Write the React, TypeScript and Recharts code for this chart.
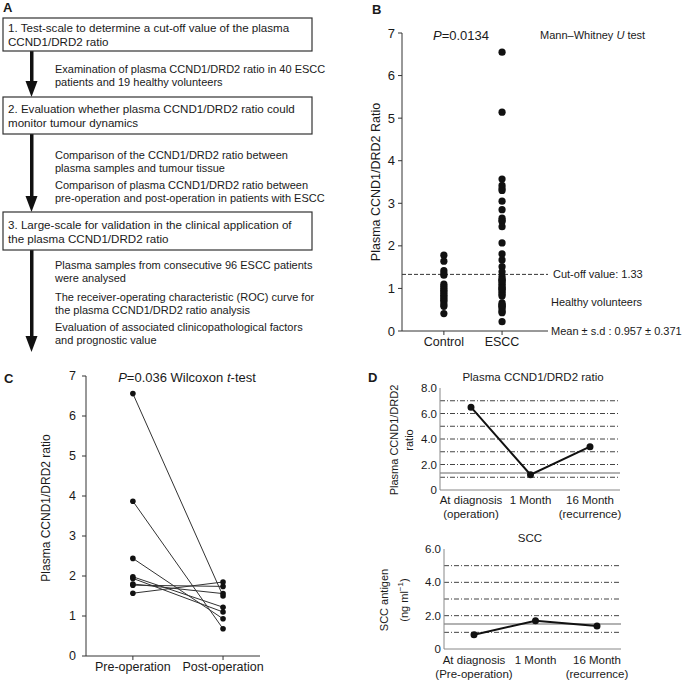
import React from "react";
import { ScatterChart, Scatter, XAxis, YAxis, ReferenceLine, LineChart, Line } from "recharts";

const FONT = '"Liberation Sans", Arial, Helvetica, sans-serif';
const INK = "#1a1a1a";

// panel A: flow chart text
const steps = [
  ["1. Test-scale to determine a cut-off value of the plasma", "CCND1/DRD2 ratio"],
  ["2. Evaluation whether plasma CCND1/DRD2 ratio could", "monitor tumour dynamics"],
  ["3. Large-scale for validation in the clinical application of", "the plasma CCND1/DRD2 ratio"],
];
const notes = [
  [["Examination of plasma CCND1/DRD2 ratio in 40 ESCC", "patients and 19 healthy volunteers"]],
  [
    ["Comparison of the CCND1/DRD2 ratio between", "plasma samples and tumour tissue"],
    ["Comparison of plasma CCND1/DRD2 ratio between", "pre-operation and post-operation in patients with ESCC"],
  ],
  [
    ["Plasma samples from consecutive 96 ESCC patients", "were analysed"],
    ["The receiver-operating characteristic (ROC) curve for", "the plasma CCND1/DRD2 ratio analysis"],
    ["Evaluation of associated clinicopathological factors", "and prognostic value"],
  ],
];

// panel B
const groupNames = ["Control", "ESCC"];
const controlRatio = [1.78, 1.64, 1.42, 1.36, 1.31, 1.1, 1.05, 1.0, 0.96, 0.92, 0.88, 0.84, 0.8, 0.76, 0.72, 0.68, 0.62, 0.58, 0.41];
const esccRatio = [
  6.55, 5.14, 3.57, 3.42, 3.35, 3.3, 3.05, 2.85, 2.65, 2.6, 2.57, 2.45, 2.07, 1.81, 1.67, 1.51, 1.39, 1.28, 1.22, 1.18,
  1.14, 1.1, 1.06, 1.02, 0.98, 0.94, 0.9, 0.86, 0.82, 0.66, 0.62, 0.58, 0.55, 0.5, 0.45, 0.43, 0.22, 1.2, 1.0, 0.6,
];
const cutoffValue = 1.33;
const ticksB = [0, 1, 2, 3, 4, 5, 6, 7];

// panel C
const periods = ["Pre-operation", "Post-operation"];
const preOpRatio = [6.56, 3.87, 2.44, 1.98, 1.94, 1.8, 1.77, 1.57];
const postOpRatio = [1.5, 0.68, 0.93, 1.22, 1.1, 1.56, 1.74, 1.85];

// panel D
const ratioStages = ["At diagnosis\n(operation)", "1 Month", "16 Month\n(recurrence)"];
const ratioCourse = [6.5, 1.2, 3.4];
const ratioGrid = [1, 2, 3, 4, 5, 6, 7];
const ratioTicks = [0, 2, 4, 6, 8];
const sccStages = ["At diagnosis\n(Pre-operation)", "1 Month", "16 Month\n(recurrence)"];
const sccCourse = [0.85, 1.7, 1.38];
const sccCutoff = 1.5;
const sccGrid = [1, 2, 3, 4, 5];
const sccTicks = [0, 2, 4, 6];

const controlData = controlRatio.map((y) => ({ x: 1, y }));
const esccData = esccRatio.map((y) => ({ x: 2, y }));
const pairs = preOpRatio.map((v, i) => [
  { x: 1, y: v },
  { x: 2, y: postOpRatio[i] },
]);
const ratioRows = ratioStages.map((stage, i) => ({ stage, value: ratioCourse[i] }));
const sccRows = sccStages.map((stage, i) => ({ stage, value: sccCourse[i] }));

const BigDot = (p: any) => <circle cx={p.cx} cy={p.cy} r={3.6} fill="#111" />;
const SmallDot = (p: any) => <circle cx={p.cx} cy={p.cy} r={2.8} fill="#111" />;

function StageTick({ x, y, payload }: any) {
  const lines = String(payload.value).split("\n");
  return (
    <text x={x} y={y} textAnchor="middle" fill={INK} fontSize={11.5}>
      {lines.map((l, i) => (
        <tspan key={i} x={x} dy={i === 0 ? "0.71em" : 14}>
          {l}
        </tspan>
      ))}
    </text>
  );
}

function Flow() {
  const boxes = [
    { top: 18, bottom: 51 },
    { top: 97, bottom: 134 },
    { top: 212, bottom: 250 },
  ];
  const arrowEnds = [97, 212, 352];
  const noteY = [[69], [155, 185], [265, 297, 327]];
  return (
    <g>
      <text x={3} y={7} dominantBaseline="central" fontWeight="bold" fontSize={13} fill={INK}>
        A
      </text>
      {boxes.map((b, i) => (
        <g key={i}>
          <rect x={30} y={b.bottom} width={3.5} height={arrowEnds[i] - b.bottom - 14} fill="#111" />
          <polygon
            points={`${25.5},${arrowEnds[i] - 16} ${37.5},${arrowEnds[i] - 16} ${31.5},${arrowEnds[i]}`}
            fill="#111"
          />
          <rect x={3} y={b.top} width={309} height={b.bottom - b.top} fill="#fff" stroke="#333" strokeWidth={1.2} />
          {steps[i].map((line, j) => (
            <text key={j} x={8} y={(b.top + b.bottom) / 2 - 7 + j * 14} dominantBaseline="central" fontSize={11.6} fill={INK}>
              {line}
            </text>
          ))}
          {notes[i].map((para, k) =>
            para.map((line, j) => (
              <text key={`${k}-${j}`} x={55} y={noteY[i][k] + j * 13} dominantBaseline="central" fontSize={11} fill={INK}>
                {line}
              </text>
            ))
          )}
        </g>
      ))}
    </g>
  );
}

function Overlay() {
  const t = { fill: INK, dominantBaseline: "central" as const };
  return (
    <svg width={685} height={680} style={{ position: "absolute", left: 0, top: 0 }}>
      <Flow />
      {/* panel B */}
      <text x={372} y={9} {...t} fontWeight="bold" fontSize={13}>B</text>
      <text x={461} y={35} {...t} textAnchor="middle" fontSize={13}>
        <tspan fontStyle="italic">P</tspan>=0.0134
      </text>
      <text x={540} y={35} {...t} fontSize={11}>
        Mann–Whitney <tspan fontStyle="italic">U</tspan> test
      </text>
      <text x={551} y={302} {...t} fontSize={11}>Healthy volunteers</text>
      <text x={551} y={331} {...t} fontSize={11}>Mean ± s.d : 0.957 ± 0.371</text>
      <text x={0} y={0} {...t} fontSize={12.5} textAnchor="middle" transform="translate(376 182) rotate(-90)">
        Plasma CCND1/DRD2 Ratio
      </text>
      {/* panel C */}
      <text x={4} y={378} {...t} fontWeight="bold" fontSize={13}>C</text>
      <text x={187} y={377} {...t} textAnchor="middle" fontSize={13}>
        <tspan fontStyle="italic">P</tspan>=0.036 Wilcoxon <tspan fontStyle="italic">t</tspan>-test
      </text>
      <text x={0} y={0} {...t} fontSize={12} textAnchor="middle" transform="translate(46 508) rotate(-90)">
        Plasma CCND1/DRD2 ratio
      </text>
      {/* panel D */}
      <text x={368} y={377} {...t} fontWeight="bold" fontSize={13}>D</text>
      <text x={533} y={377} {...t} textAnchor="middle" fontSize={11.5}>Plasma CCND1/DRD2 ratio</text>
      <text x={0} y={0} {...t} fontSize={11} textAnchor="middle" transform="translate(394 440) rotate(-90)">
        Plasma CCND1/DRD2
      </text>
      <text x={0} y={0} {...t} fontSize={11} textAnchor="middle" transform="translate(409 440) rotate(-90)">
        ratio
      </text>
      <text x={530} y={538} {...t} textAnchor="middle" fontSize={11.5}>SCC</text>
      <text x={0} y={0} {...t} fontSize={11} textAnchor="middle" transform="translate(384 600) rotate(-90)">
        SCC antigen
      </text>
      <text x={0} y={0} {...t} fontSize={11} textAnchor="middle" transform="translate(404 600) rotate(-90)">
        (ng ml<tspan dy={-4} fontSize={8}>−1</tspan>
        <tspan dy={4}>)</tspan>
      </text>
    </svg>
  );
}

const axisLine = { stroke: "#333" };
const tickStyle = { fill: INK };

export default function App() {
  return (
    <div style={{ position: "absolute", left: 0, top: 0, width: 685, height: 680, fontFamily: FONT, background: "#fff" }}>
      <Overlay />

      {/* B: scatter of ratio by group */}
      <div style={{ position: "absolute", left: 340, top: 20 }}>
        <ScatterChart width={345} height={340} margin={{ top: 13, right: 137, bottom: 4, left: 22 }}>
          <XAxis
            type="number"
            dataKey="x"
            domain={[0.28, 2.79]}
            ticks={[1, 2]}
            tickFormatter={(v) => groupNames[v - 1]}
            height={25}
            axisLine={axisLine}
            tickLine={axisLine}
            tickSize={4}
            tick={{ ...tickStyle, fontSize: 12.5 }}
          />
          <YAxis
            type="number"
            dataKey="y"
            domain={[0, 7]}
            ticks={ticksB}
            width={40}
            axisLine={axisLine}
            tickLine={axisLine}
            tickSize={4}
            tickMargin={3}
            tick={{ ...tickStyle, fontSize: 13 }}
          />
          <ReferenceLine
            y={cutoffValue}
            stroke="#333"
            strokeDasharray="4 2"
            label={{ value: "Cut-off value: 1.33", position: "right", fill: INK, fontSize: 11 }}
          />
          <Scatter data={controlData} shape={BigDot} isAnimationActive={false} />
          <Scatter data={esccData} shape={BigDot} isAnimationActive={false} />
        </ScatterChart>
      </div>

      {/* C: paired pre/post operation */}
      <div style={{ position: "absolute", left: 20, top: 365 }}>
        <ScatterChart width={300} height={315} margin={{ top: 11, right: 60, bottom: 2, left: 36 }}>
          <XAxis
            type="number"
            dataKey="x"
            domain={[0.48, 2.41]}
            ticks={[1, 2]}
            tickFormatter={(v) => periods[v - 1]}
            height={22}
            axisLine={axisLine}
            tickLine={axisLine}
            tickSize={4}
            tick={{ ...tickStyle, fontSize: 12.5 }}
          />
          <YAxis
            type="number"
            dataKey="y"
            domain={[0, 7]}
            ticks={ticksB}
            width={30}
            axisLine={axisLine}
            tickLine={axisLine}
            tickSize={4}
            tickMargin={6}
            tick={{ ...tickStyle, fontSize: 12.5 }}
          />
          {pairs.map((pair, i) => (
            <Scatter
              key={i}
              data={pair}
              line={{ stroke: "#333", strokeWidth: 1 }}
              shape={SmallDot}
              isAnimationActive={false}
            />
          ))}
        </ScatterChart>
      </div>

      {/* D top: plasma ratio course */}
      <div style={{ position: "absolute", left: 370, top: 370 }}>
        <LineChart width={290} height={160} data={ratioRows} margin={{ top: 18, right: 40, bottom: 5, left: 40 }}>
          <XAxis
            dataKey="stage"
            height={35}
            padding={{ left: 31, right: 30 }}
            axisLine={{ stroke: "#888" }}
            tickLine={false}
            tickSize={4}
            tickMargin={2}
            tick={<StageTick />}
            interval={0}
          />
          <XAxis xAxisId="top" orientation="top" dataKey="stage" height={0} tick={false} tickLine={false} axisLine={{ stroke: "#888" }} />
          <YAxis
            domain={[0, 8]}
            ticks={ratioTicks}
            tickFormatter={(v) => (v === 0 ? "0" : v.toFixed(1))}
            width={30}
            axisLine={{ stroke: "#888" }}
            tickLine={false}
            tickSize={2}
            tickMargin={1}
            tick={{ ...tickStyle, fontSize: 11.5 }}
          />
          <YAxis yAxisId="right" orientation="right" domain={[0, 8]} width={0} tick={false} tickLine={false} axisLine={{ stroke: "#888" }} />
          {ratioGrid.map((g) => (
            <ReferenceLine key={g} y={g} stroke="#444" strokeDasharray="5 2 1 2" />
          ))}
          <ReferenceLine y={cutoffValue} stroke="#999" strokeWidth={1.5} />
          <Line
            dataKey="value"
            stroke="#111"
            strokeWidth={2}
            dot={{ r: 2.5, fill: "#111", stroke: "#111" }}
            isAnimationActive={false}
          />
        </LineChart>
      </div>

      {/* D bottom: SCC antigen course */}
      <div style={{ position: "absolute", left: 370, top: 530 }}>
        <LineChart width={290} height={150} data={sccRows} margin={{ top: 19, right: 39, bottom: 0, left: 40 }}>
          <XAxis
            dataKey="stage"
            height={31}
            padding={{ left: 30, right: 24 }}
            axisLine={{ stroke: "#888" }}
            tickLine={false}
            tickSize={4}
            tickMargin={3}
            tick={<StageTick />}
            interval={0}
          />
          <XAxis xAxisId="top" orientation="top" dataKey="stage" height={0} tick={false} tickLine={false} axisLine={{ stroke: "#888" }} />
          <YAxis
            domain={[0, 6]}
            ticks={sccTicks}
            tickFormatter={(v) => (v === 0 ? "0" : v.toFixed(1))}
            width={34}
            axisLine={{ stroke: "#888" }}
            tickLine={false}
            tickSize={2}
            tickMargin={1}
            tick={{ ...tickStyle, fontSize: 11.5 }}
          />
          <YAxis yAxisId="right" orientation="right" domain={[0, 6]} width={0} tick={false} tickLine={false} axisLine={{ stroke: "#888" }} />
          {sccGrid.map((g) => (
            <ReferenceLine key={g} y={g} stroke="#444" strokeDasharray="5 2 1 2" />
          ))}
          <ReferenceLine y={sccCutoff} stroke="#999" strokeWidth={1.5} />
          <Line
            dataKey="value"
            stroke="#111"
            strokeWidth={2}
            dot={{ r: 2.5, fill: "#111", stroke: "#111" }}
            isAnimationActive={false}
          />
        </LineChart>
      </div>
    </div>
  );
}
